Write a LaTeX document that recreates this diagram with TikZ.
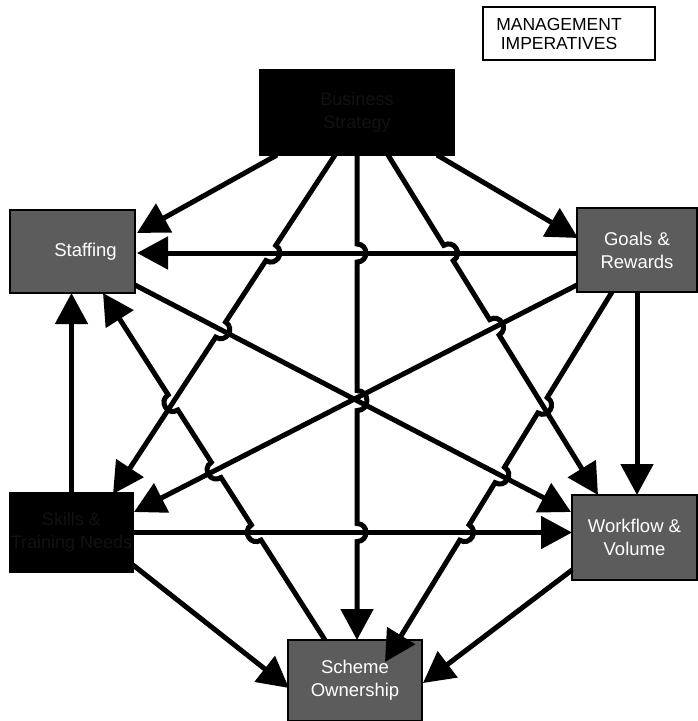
\documentclass[tikz,border=0pt]{standalone}
\usepackage{fontspec}
\setmainfont{Liberation Sans}
\usetikzlibrary{arrows.meta,calc,intersections}
\begin{document}
\begin{tikzpicture}[x=1pt,y=-1pt,
  box/.style={rectangle,inner sep=0pt,outer sep=0pt,align=center,line width=1.5pt},
  darkbox/.style={box,fill=black,draw=black,text=black!93,font=\fontsize{18}{23}\selectfont},
  greybox/.style={box,fill=black!64,draw=black,text=white,font=\fontsize{18.5}{23}\selectfont},
  conn/.style={line width=5pt,-{Triangle[length=31pt,width=32pt]}},
  hop/.style={bend left=90,looseness=1.7}
]
\useasboundingbox (0,0) rectangle (697,721);

% legend box
\node[box,draw=black,line width=1.3pt,minimum width=172pt,minimum height=53pt,
      font=\fontsize{17.5}{19}\selectfont] (M) at (569,33.5)
      {MANAGEMENT\hspace*{20pt}\\IMPERATIVES\hspace*{20pt}};

% factor boxes
\node[darkbox,minimum width=194pt,minimum height=85pt] (T) at (357,112.5) {Business\\Strategy};
\node[greybox,minimum width=125pt,minimum height=83pt] (S) at (72.5,251.5) {\hspace*{26pt}Staffing};
\node[greybox,minimum width=120pt,minimum height=84pt] (G) at (637,250) {Goals \&\\Rewards};
\node[darkbox,minimum width=123pt,minimum height=79pt] (B) at (71.5,532.5) {Skills \&\\Training Needs};
\node[greybox,minimum width=125pt,minimum height=85pt] (W) at (634.5,537.5) {Workflow \&\\Volume};
\node[greybox,minimum width=134pt,minimum height=81pt] (O) at (355,680.5) {Scheme\\Ownership};

% connector end points on the box borders
\coordinate (tS) at ($(T.south west)+(17,0)$);
\coordinate (sT) at ($(S.north east)+(2,23)$);
\coordinate (tG) at ($(T.south west)+(177,0)$);
\coordinate (gT) at ($(G.north west)+(1,30)$);
\coordinate (gS) at ($(G.north west)+(0,45)$);
\coordinate (sG) at ($(S.north east)+(2,43)$);
\coordinate (tB) at ($(T.south west)+(75,0)$);
\coordinate (bT) at ($(B.north west)+(103,1)$);
\coordinate (tO) at (T.south);
\coordinate (oT) at (T.south |- O.north);
\coordinate (tW) at ($(T.south west)+(128,0)$);
\coordinate (wT) at ($(W.north west)+(26,0)$);
\coordinate (gB) at ($(G.north west)+(0,77)$);
\coordinate (bG) at ($(B.north east)+(1,19)$);
\coordinate (sW) at ($(S.north east)+(0,75)$);
\coordinate (wS) at ($(W.north west)+(-1,17)$);
\coordinate (gW) at (G.south);
\coordinate (wG) at (G.south |- W.north);
\coordinate (gO) at ($(G.south west)+(35,0)$);
\coordinate (oG) at ($(O.north west)+(97,22)$);
\coordinate (wO) at ($(W.north west)+(0,75)$);
\coordinate (oW) at ($(O.north east)+(1,43)$);
\coordinate (bS) at (B.north);
\coordinate (sB) at (B.north |- S.south);
\coordinate (bW) at (B.east);
\coordinate (wB) at (B.east -| W.west);
\coordinate (bO) at ($(B.north east)+(0,72)$);
\coordinate (oB) at ($(O.north west)+(1,48)$);
\coordinate (oS) at ($(O.north west)+(37,0)$);
\coordinate (sO) at ($(S.south west)+(93,0)$);

% straight paths used to find the line jumps
\path[name path=l3] (gS) -- (sG);
\path[name path=l4] (tB) -- (bT);
\path[name path=l5] (tO) -- (oT);
\path[name path=l6] (tW) -- (wT);
\path[name path=l7] (gB) -- (bG);
\path[name path=l8] (sW) -- (wS);
\path[name path=l10] (gO) -- (oG);
\path[name path=l13] (bW) -- (wB);
\path[name path=l15] (oS) -- (sO);

\path[name intersections={of=l4 and l3,by=x43}];
\path[name intersections={of=l4 and l8,by=x48}];
\path[name intersections={of=l5 and l3,by=x53}];
\path[name intersections={of=l5 and l8,by=x58}];
\path[name intersections={of=l5 and l13,by=x513}];
\path[name intersections={of=l6 and l3,by=x63}];
\path[name intersections={of=l6 and l7,by=x67}];
\path[name intersections={of=l10 and l6,by=x106}];
\path[name intersections={of=l10 and l8,by=x108}];
\path[name intersections={of=l10 and l13,by=x1013}];
\path[name intersections={of=l15 and l13,by=x1513}];
\path[name intersections={of=l15 and l7,by=x157}];
\path[name intersections={of=l15 and l4,by=x154}];

% plain connectors
\draw[conn] (tS) -- (sT);
\draw[conn] (tG) -- (gT);
\draw[conn] (gS) -- (sG);
\draw[conn] (gB) -- (bG);
\draw[conn] (sW) -- (wS);
\draw[conn] (gW) -- (wG);
\draw[conn] (wO) -- (oW);
\draw[conn] (bS) -- (sB);
\draw[conn] (bW) -- (wB);
\draw[conn] (bO) -- (oB);

% connectors that jump over the lines they cross
\draw[conn] (tB) -- ($(x43)!9pt!(tB)$) to[hop] ($(x43)!9pt!(bT)$)
  -- ($(x48)!9pt!(tB)$) to[hop] ($(x48)!9pt!(bT)$) -- (bT);
\draw[conn] (tO) -- ($(x53)!9pt!(tO)$) to[hop] ($(x53)!9pt!(oT)$)
  -- ($(x58)!10pt!(tO)$) to[hop] ($(x58)!10pt!(oT)$)
  -- ($(x513)!9pt!(tO)$) to[hop] ($(x513)!9pt!(oT)$) -- (oT);
\draw[conn] (tW) -- ($(x63)!9pt!(tW)$) to[hop] ($(x63)!9pt!(wT)$)
  -- ($(x67)!9pt!(tW)$) to[hop] ($(x67)!9pt!(wT)$) -- (wT);
\draw[conn] (gO) -- ($(x106)!9pt!(gO)$) to[hop] ($(x106)!9pt!(oG)$)
  -- ($(x108)!9pt!(gO)$) to[hop] ($(x108)!9pt!(oG)$)
  -- ($(x1013)!9pt!(gO)$) to[hop] ($(x1013)!9pt!(oG)$) -- (oG);
\draw[conn] (oS) -- ($(x1513)!9pt!(oS)$) to[hop] ($(x1513)!9pt!(sO)$)
  -- ($(x157)!9pt!(oS)$) to[hop] ($(x157)!9pt!(sO)$)
  -- ($(x154)!9pt!(oS)$) to[hop] ($(x154)!9pt!(sO)$) -- (sO);
\end{tikzpicture}
\end{document}
